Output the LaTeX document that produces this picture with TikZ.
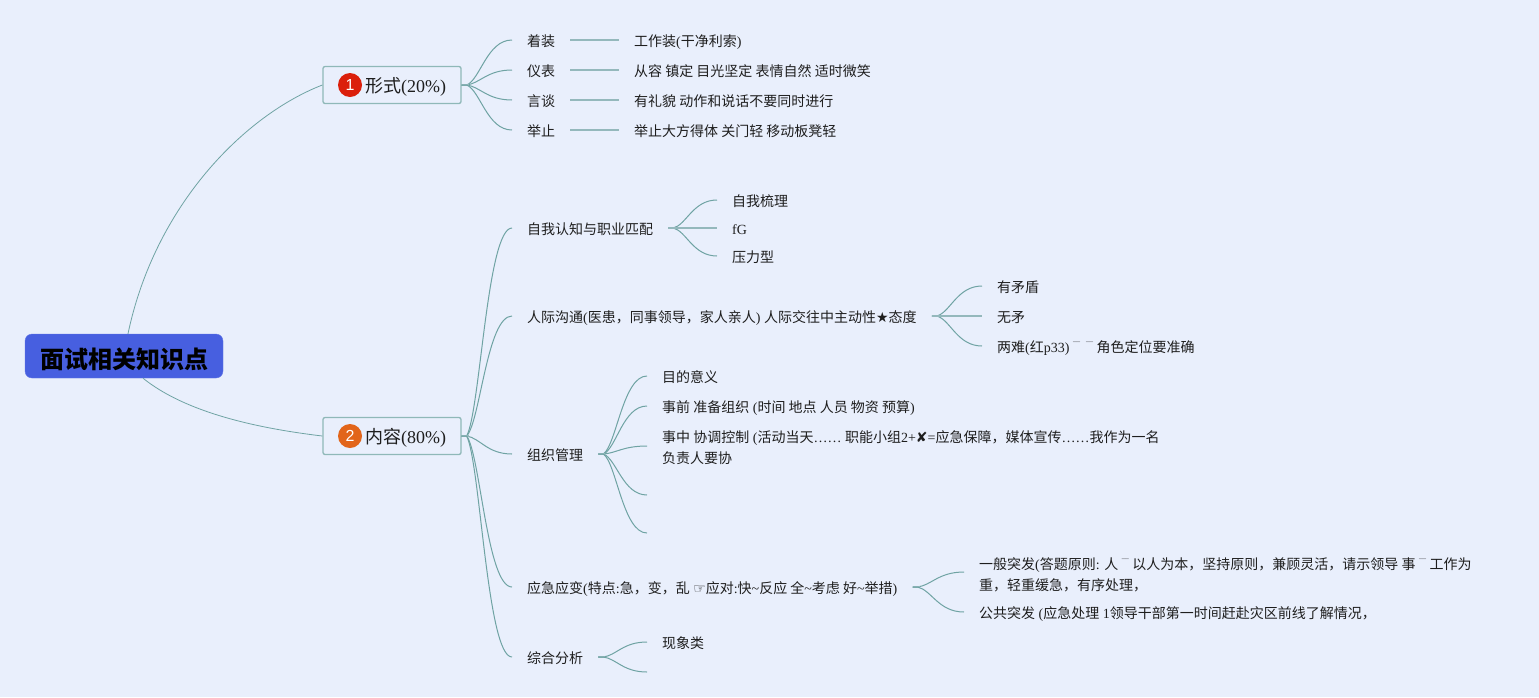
\documentclass[tikz,border=0pt]{standalone}
\usepackage{fontspec}
\usetikzlibrary{calc}
\setmainfont{Liberation Serif}
\newfontfamily\cj{Noto Sans CJK SC}
\newfontfamily\symf{DejaVu Sans}
\newfontfamily\badgef{Liberation Sans}
\newcommand\zh[1]{{\cj #1}}
\newcommand\sy[1]{{\symf #1}}
\newcommand\mc{\raisebox{5pt}{\fontsize{7}{7}\selectfont ¯¯}}
\definecolor{pagebg}{HTML}{E9EFFC}
\definecolor{linkc}{HTML}{6FA3A3}
\definecolor{stubc}{HTML}{94B8BC}
\definecolor{rootc}{HTML}{475FE0}
\definecolor{boxc}{HTML}{8FB8B8}
\definecolor{txt}{HTML}{1E1E1E}
\definecolor{badgeone}{HTML}{DB1F0B}
\definecolor{badgetwo}{HTML}{E2651A}
\tikzset{
  rootnode/.style={draw=rootc!85!white,fill=rootc,rounded corners=7pt,minimum width=198pt,minimum height=44pt,inner sep=0pt,text height=26pt,text depth=2pt,font=\fontsize{24}{28}\selectfont\cj\bfseries,text=black},
  branch/.style={draw=boxc,line width=1.3pt,rounded corners=2pt,fill=pagebg,minimum height=37pt,inner xsep=15pt,inner ysep=0pt,text width=108pt,align=right,font=\fontsize{18}{22}\selectfont,text=txt},
  badge/.style={circle,inner sep=0pt,minimum size=24pt,text=white,font=\fontsize{16}{18}\selectfont\badgef},
  leaf/.style={anchor=west,inner xsep=15pt,inner ysep=0pt,text height=14pt,text depth=2pt,font=\fontsize{14}{21}\selectfont,text=txt,align=left},
  multi/.style={anchor=west,inner xsep=15pt,inner ysep=0pt,font=\fontsize{14}{21}\selectfont,text=txt,align=left},
  link/.style={draw=linkc,line width=1pt},
  mainlink/.style={draw=linkc,line width=0.8pt},
  stublink/.style={draw=stubc,line width=1.6pt},
}
% curve from a node's east side, through a short stub, to a child
\newcommand\lnk[2]{%
  \draw[stublink] (#1) -- ++(7pt,0pt);
  \draw[link] let \p1=(#1),\p2=(#2) in (#1) -- ($(#1)+(5pt,0pt)$)
    .. controls ({\x1+5pt+.3*(\x2-\x1-5pt)},{\y1+.12*(\y2-\y1)}) and ({\x1+5pt+.45*(\x2-\x1-5pt)},\y2) .. (#2);}
\begin{document}
\begin{tikzpicture}[x=1pt,y=-1pt]
\useasboundingbox[fill=pagebg] (0,0) rectangle (1539,697);

\node[rootnode] (root) at (124,356) {面试相关知识点};
\node[branch] (b1) at (392,85) {\raisebox{0pt}[15pt][0pt]{\zh{形式}(20\%)}};
\node[branch] (b2) at (392,436) {\raisebox{0pt}[15pt][0pt]{\zh{内容}(80\%)}};
\node[badge,fill=badgeone] (bd1) at (350,85) {1};
\node[badge,fill=badgetwo] (bd2) at (350,436) {2};

\draw[mainlink] ([xshift=4pt]root.north) .. controls (155,205) and (245,115) .. (b1.west);
\draw[mainlink] ([xshift=19pt]root.south) .. controls (185,412) and (255,428) .. (b2.west);

% form branch
\node[leaf] (a1) at (512,40) {\zh{着装}};
\node[leaf] (a2) at (512,70) {\zh{仪表}};
\node[leaf] (a3) at (512,100) {\zh{言谈}};
\node[leaf] (a4) at (512,130) {\zh{举止}};
\node[leaf] (a1x) at (619,40) {\zh{工作装}(\zh{干净利索})};
\node[leaf] (a2x) at (619,70) {\zh{从容 镇定 目光坚定 表情自然 适时微笑}};
\node[leaf] (a3x) at (619,100) {\zh{有礼貌 动作和说话不要同时进行}};
\node[leaf] (a4x) at (619,130) {\zh{举止大方得体 关门轻 移动板凳轻}};
\foreach \k in {a1,a2,a3,a4} {\lnk{b1.east}{\k.west}}
\foreach \k in {a1,a2,a3,a4} {\draw[stublink] (\k.east) -- (\k x.west);}

% content branch
\node[leaf] (c1) at (512,228) {\zh{自我认知与职业匹配}};
\node[leaf] (c2) at (512,316) {\zh{人际沟通}(\zh{医患，同事领导，家人亲人}) \zh{人际交往中主动性}\sy{★}\zh{态度}};
\node[leaf] (c3) at (512,454) {\zh{组织管理}};
\node[leaf] (c4) at (512,587) {\zh{应急应变}(\zh{特点}:\zh{急，变，乱} \sy{☞}\zh{应对}:\zh{快}\textasciitilde\zh{反应 全}\textasciitilde\zh{考虑 好}\textasciitilde\zh{举措})};
\node[leaf] (c5) at (512,657) {\zh{综合分析}};
\foreach \k in {c1,c2,c3,c4,c5} {\lnk{b2.east}{\k.west}}

\node[leaf] (d1) at (717,200) {\zh{自我梳理}};
\node[leaf] (d2) at (717,228) {fG};
\node[leaf] (d3) at (717,256) {\zh{压力型}};
\lnk{c1.east}{d1.west}
\lnk{c1.east}{d3.west}
\draw[stublink] (c1.east) -- (d2.west);

\node[leaf] (e1) at (982,286) {\zh{有矛盾}};
\node[leaf] (e2) at (982,316) {\zh{无矛}};
\node[leaf] (e3) at (982,346) {\zh{两难}(\zh{红}p33) \mc\hspace{6pt}\mc\ \zh{角色定位要准确}};
\lnk{c2.east}{e1.west}
\lnk{c2.east}{e3.west}
\draw[stublink] (c2.east) -- (e2.west);

\node[leaf] (f1) at (647,376) {\zh{目的意义}};
\node[leaf] (f2) at (647,406) {\zh{事前 准备组织} (\zh{时间 地点 人员 物资 预算})};
\node[multi] (f3) at (647,448) {\zh{事中 协调控制} (\zh{活动当天}…… \zh{职能小组}2+\sy{✘}=\zh{应急保障，媒体宣传}……\zh{我作为一名}\\\zh{负责人要协}};
\coordinate (f3e) at ($(f3.west)+(0,-2)$);
\coordinate (f4) at (647,495);
\coordinate (f5) at (647,533);
\foreach \k in {f1.west,f2.west,f3e,f4,f5} {\lnk{c3.east}{\k}}

\node[multi] (g1) at (964,575) {\zh{一般突发}(\zh{答题原则}: \zh{人} \mc\ \zh{以人为本，坚持原则，兼顾灵活，请示领导 事} \mc\ \zh{工作为}\\\zh{重，轻重缓急，有序处理，}};
\coordinate (g1e) at ($(g1.west)+(0,-3)$);
\node[leaf] (g2) at (964,612) {\zh{公共突发} (\zh{应急处理} 1\zh{领导干部第一时间赶赴灾区前线了解情况，}};
\lnk{c4.east}{g1e}
\lnk{c4.east}{g2.west}

\node[leaf] (h1) at (647,642) {\zh{现象类}};
\coordinate (h2) at (647,672);
\foreach \k in {h1.west,h2} {\lnk{c5.east}{\k}}
\end{tikzpicture}
\end{document}
